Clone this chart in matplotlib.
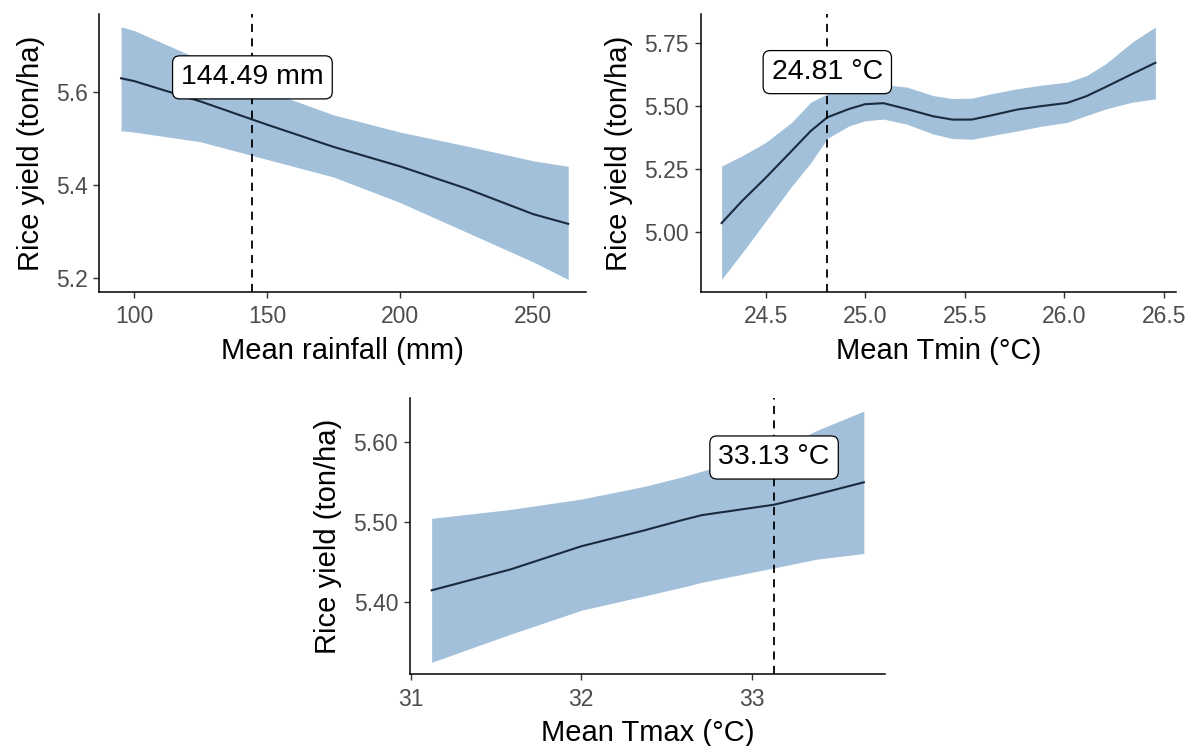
import numpy as np
import matplotlib.pyplot as plt

plt.rcParams['font.family'] = ['Liberation Sans', 'DejaVu Sans']

# --- panel 1: rainfall ---
rain_x = [95.1, 100, 125, 150, 175, 200, 225, 250, 263.2]
rain_fit = [5.630, 5.624, 5.580, 5.530, 5.482, 5.440, 5.392, 5.337, 5.316]
rain_lo = [5.517, 5.514, 5.493, 5.455, 5.417, 5.362, 5.298, 5.234, 5.196]
rain_hi = [5.741, 5.733, 5.670, 5.603, 5.551, 5.514, 5.484, 5.452, 5.440]
rain_opt = 144.49

# --- panel 2: Tmin ---
tmin_x = [24.279, 24.381, 24.5, 24.631, 24.727, 24.81, 24.919, 25.0, 25.092, 25.208,
          25.342, 25.438, 25.535, 25.631, 25.765, 25.881, 26.015, 26.112, 26.208,
          26.342, 26.458]
tmin_fit = [5.037, 5.124, 5.216, 5.323, 5.402, 5.456, 5.489, 5.508, 5.512, 5.489,
            5.460, 5.447, 5.447, 5.463, 5.487, 5.500, 5.513, 5.540, 5.576, 5.628, 5.672]
tmin_hi = [5.263, 5.303, 5.356, 5.436, 5.516, 5.549, 5.569, 5.580, 5.585, 5.576,
           5.542, 5.530, 5.532, 5.549, 5.569, 5.583, 5.595, 5.621, 5.668, 5.754, 5.814]
tmin_lo = [4.814, 4.918, 5.044, 5.183, 5.276, 5.372, 5.422, 5.442, 5.449, 5.429,
           5.390, 5.372, 5.369, 5.383, 5.402, 5.420, 5.436, 5.463, 5.489, 5.516, 5.529]
tmin_opt = 24.81

# --- panel 3: Tmax ---
tmax_x = [31.124, 31.584, 32.0, 32.371, 32.596, 32.708, 33.13, 33.382, 33.656]
tmax_fit = [5.415, 5.441, 5.470, 5.490, 5.503, 5.509, 5.522, 5.535, 5.550]
tmax_hi = [5.505, 5.516, 5.529, 5.545, 5.557, 5.564, 5.588, 5.615, 5.639]
tmax_lo = [5.325, 5.360, 5.390, 5.408, 5.419, 5.425, 5.443, 5.454, 5.461]
tmax_opt = 33.13

fig = plt.figure(figsize=(11.87, 7.46), dpi=100, facecolor='white')

panels = [
    dict(rect=[0.0837, 0.6086, 0.4100, 0.3722], x=rain_x, fit=rain_fit, lo=rain_lo, hi=rain_hi,
         opt=rain_opt, label='144.49 mm', xlab='Mean rainfall (mm)', lab_y=5.632,
         xlim=(86.95, 269.9), ylim=(5.169, 5.768),
         xt=[100, 150, 200, 250], xfmt='{:.0f}', yt=[5.2, 5.4, 5.6], yfmt='{:.1f}'),
    dict(rect=[0.5903, 0.6086, 0.4007, 0.3722], x=tmin_x, fit=tmin_fit, lo=tmin_lo, hi=tmin_hi,
         opt=tmin_opt, label='24.81 °C', xlab='Mean Tmin (°C)', lab_y=5.635,
         xlim=(24.174, 26.563), ylim=(4.764, 5.864),
         xt=[24.5, 25.0, 25.5, 26.0, 26.5], xfmt='{:.1f}', yt=[5.0, 5.25, 5.5, 5.75], yfmt='{:.2f}'),
    dict(rect=[0.3454, 0.0961, 0.4002, 0.3700], x=tmax_x, fit=tmax_fit, lo=tmax_lo, hi=tmax_hi,
         opt=tmax_opt, label='33.13 °C', xlab='Mean Tmax (°C)', lab_y=5.581,
         xlim=(30.997, 33.78), ylim=(5.31, 5.655),
         xt=[31, 32, 33], xfmt='{:.0f}', yt=[5.4, 5.5, 5.6], yfmt='{:.2f}'),
]

for p in panels:
    ax = fig.add_axes(p['rect'])
    ax.fill_between(p['x'], p['lo'], p['hi'], color='#a2c0d9', lw=0)
    ax.plot(p['x'], p['fit'], color='#1a2a3f', lw=1.5, solid_joinstyle='round')
    ax.axvline(p['opt'], color='black', lw=1.3, dashes=(4.5, 3.5))
    ax.text(p['opt'], p['lab_y'], p['label'], ha='center', va='center', fontsize=20.5,
            color='black',
            bbox=dict(boxstyle='round,pad=0.3,rounding_size=0.25', fc='white', ec='black', lw=0.9))
    ax.set_xlim(*p['xlim'])
    ax.set_ylim(*p['ylim'])
    ax.set_xticks(p['xt'])
    ax.set_xticklabels([p['xfmt'].format(v) for v in p['xt']])
    ax.set_yticks(p['yt'])
    ax.set_yticklabels([p['yfmt'].format(v) for v in p['yt']])
    for s in ['top', 'right']:
        ax.spines[s].set_visible(False)
    for s in ['left', 'bottom']:
        ax.spines[s].set_linewidth(1.1)
        ax.spines[s].set_color('black')
    ax.tick_params(length=4.5, width=1.0, color='#333333', labelsize=16.5,
                   labelcolor='#4d4d4d')
    ax.tick_params(axis='x', pad=5)
    ax.tick_params(axis='y', pad=4)
    ax.set_xlabel(p['xlab'], fontsize=21, labelpad=6)
    ax.set_ylabel('Rice yield (ton/ha)', fontsize=21, labelpad=8)

fig.savefig('out.png', dpi=100, facecolor='white')
